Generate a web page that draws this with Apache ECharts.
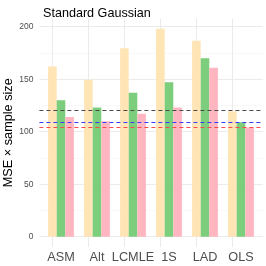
<!DOCTYPE html>
<html>
<head>
<meta charset="utf-8">
<script src="https://cdn.jsdelivr.net/npm/echarts@6/dist/echarts.min.js"></script>
<style>html,body{margin:0;padding:0;background:#fff}#c{width:266px;height:266px}</style>
</head>
<body>
<div id="c"></div>
<script>
var categories = ['ASM', 'Alt', 'LCMLE', '1S', 'LAD', 'OLS'];
var seriesA = [162, 149.5, 179.5, 198, 186.5, 119.5];
var seriesB = [130, 123, 137, 147, 170, 109];
var seriesC = [114, 110, 117, 123, 161, 104];
var refLines = [120, 109, 104.5];
var yTicks = [0, 50, 100, 150, 200];
var yMinorTicks = [25, 75, 125, 175];

var chart = echarts.init(document.getElementById('c'), null, {renderer: 'canvas'});
var font = 'Liberation Sans, Arial, sans-serif';
var X_MIN = 0.4, X_MAX = 6.6, Y_MIN = -9.8, Y_MAX = 207.8;
function toPts(vals) { return vals.map(function (v, i) { return [i + 1, v]; }); }
var gridLines = [];
yTicks.forEach(function (v) { gridLines.push({yAxis: v, lineStyle: {color: '#EBEBEB', width: 1, type: 'solid'}}); });
yMinorTicks.forEach(function (v) { gridLines.push({yAxis: v, lineStyle: {color: '#F3F3F3', width: 0.6, type: 'solid'}}); });
categories.forEach(function (c, i) {
  gridLines.push([{coord: [i + 1, Y_MIN], lineStyle: {color: '#EBEBEB', width: 1, type: 'solid'}}, {coord: [i + 1, Y_MAX]}]);
});
var refColors = ['#4a4a4a', '#3b3bff', '#ff4a4a'];

var option = {
  animation: false,
  title: {
    text: 'Standard Gaussian', left: 38, top: 2,
    textStyle: {fontFamily: font, fontSize: 12.6, fontWeight: 'normal', color: '#000'}
  },
  grid: {left: 39.4, right: 3.4, top: 18.5, bottom: 19, outerBoundsMode: 'none', containLabel: false},
  xAxis: {
    type: 'value', min: X_MIN, max: X_MAX,
    axisLine: {show: false}, axisTick: {show: false}, splitLine: {show: false},
    axisLabel: {
      customValues: [1, 2, 3, 4, 5, 6],
      formatter: function (v) { return categories[Math.round(v) - 1] || ''; },
      fontFamily: font, fontSize: 12.7, color: '#4D4D4D', margin: 4
    }
  },
  yAxis: {
    type: 'value', min: Y_MIN, max: Y_MAX,
    name: 'MSE \u00d7 sample size', nameLocation: 'middle', nameGap: 24, nameMoveOverlap: false,
    nameTextStyle: {fontFamily: font, fontSize: 12.7, color: '#000'},
    axisLine: {show: false}, axisTick: {show: false}, splitLine: {show: false},
    axisLabel: {
      customValues: yTicks,
      formatter: function (v) { return String(Math.round(v)); },
      fontFamily: font, fontSize: 8.5, color: '#4D4D4D', margin: 6
    }
  },
  series: [
    {
      type: 'bar', data: toPts(seriesA), barWidth: 8.6, barGap: '0%',
      itemStyle: {color: '#FFE4B5'}, z: 2,
      markLine: {silent: true, symbol: 'none', z: 1, label: {show: false}, data: gridLines, animation: false}
    },
    {
      type: 'bar', data: toPts(seriesB), barWidth: 8.6, barGap: '0%',
      itemStyle: {color: '#7CCD7C'}, z: 2
    },
    {
      type: 'bar', data: toPts(seriesC), barWidth: 8.6, barGap: '0%',
      itemStyle: {color: '#FFB6C1'}, z: 2,
      markLine: {
        silent: true, symbol: 'none', z: 5, label: {show: false}, animation: false,
        data: refLines.map(function (v, i) {
          return {yAxis: v, lineStyle: {color: refColors[i], width: 1, type: [4, 3]}};
        })
      }
    }
  ]
};
chart.setOption(option);
</script>
</body>
</html>
